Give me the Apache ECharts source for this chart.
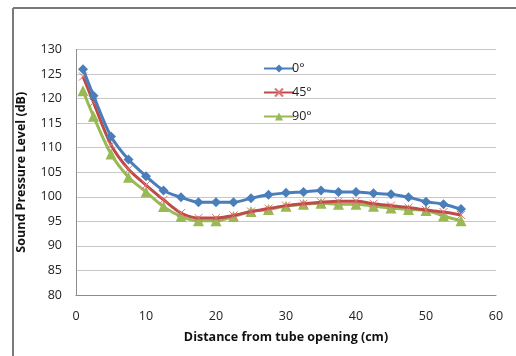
<!DOCTYPE html>
<html>
<head>
<meta charset="utf-8">
<script src="https://cdn.jsdelivr.net/npm/echarts@6/dist/echarts.min.js"></script>
<style>html,body{margin:0;padding:0;background:#fff}#c{width:516px;height:356px}</style>
</head>
<body>
<div id="c"></div>
<script>
const distances = [1,2.5,5,7.5,10,12.5,15,17.5,20,22.5,25,27.5,30,32.5,35,37.5,40,42.5,45,47.5,50,52.5,55];
const spl0 = [126.0,120.6,112.3,107.6,104.2,101.3,99.9,98.9,98.9,98.9,99.7,100.4,100.8,101.0,101.3,101.0,101.0,100.7,100.5,99.9,99.0,98.5,97.5];
const spl45 = [124.5,119.2,110.6,105.6,102.4,99.4,96.7,95.7,95.7,96.2,97.0,97.6,98.2,98.6,98.9,99.1,99.1,98.6,98.2,97.8,97.3,96.9,96.3];
const spl90 = [121.6,116.4,108.7,104.0,101.0,98.0,96.0,95.1,95.1,96.0,97.0,97.4,98.1,98.5,98.7,98.5,98.5,98.1,97.7,97.4,97.2,96.1,95.1];
const seriesNames = ['0°','45°','90°'];
const xTitle = 'Distance from tube opening (cm)';
const yTitle = 'Sound Pressure Level (dB)';

const pair = v => distances.map((d,i)=>[d,v[i]]);
const crossPath = 'path://M0,0 L10,10 M10,0 L0,10';
const font = 'Open Sans, Liberation Sans, sans-serif';

const chart = echarts.init(document.getElementById('c'));
chart.setOption({
  animation:false,
  backgroundColor:'#fff',
  textStyle:{fontFamily:font},
  grid:{left:76,right:20,top:49.5,bottom:61},
  graphic:[
    {type:'line',shape:{x1:13,y1:8,x2:516,y2:8},style:{stroke:'#7a7a7a',lineWidth:2}},
    {type:'line',shape:{x1:13,y1:8,x2:13,y2:356},style:{stroke:'#7a7a7a',lineWidth:2}}
  ],
  legend:{
    orient:'vertical',left:258,top:57,itemWidth:30,itemHeight:10,itemGap:11,
    textStyle:{fontSize:12.5,color:'#222',fontFamily:font,padding:[0,0,0,-7]},
    data:seriesNames
  },
  xAxis:{
    type:'value',min:0,max:60,interval:10,
    name:xTitle,nameLocation:'middle',nameGap:36,
    nameTextStyle:{fontSize:12.5,fontWeight:'bold',color:'#111',fontFamily:font},
    axisLine:{lineStyle:{color:'#8c8c8c'}},
    axisTick:{show:false},
    axisLabel:{fontSize:12.5,color:'#222',margin:15},
    splitLine:{show:false}
  },
  yAxis:{
    type:'value',min:80,max:130,interval:5,
    name:yTitle,nameLocation:'middle',nameGap:48,
    nameTextStyle:{fontSize:12.5,fontWeight:'bold',color:'#111',fontFamily:font},
    axisLine:{show:true,lineStyle:{color:'#8c8c8c'}},
    axisTick:{show:false},
    axisLabel:{fontSize:12.5,color:'#222',margin:14},
    splitLine:{lineStyle:{color:'#c8c8c8',width:1}}
  },
  series:[
    {name:seriesNames[0],type:'line',data:pair(spl0),smooth:0.3,
     symbol:'diamond',symbolSize:10,color:'#4a7ebb',
     lineStyle:{width:3,color:'#4a7ebb'},itemStyle:{color:'#4a7ebb'},z:3},
    {name:seriesNames[1],type:'line',data:pair(spl45),smooth:0.3,
     symbol:crossPath,symbolSize:8,color:'#be4b48',
     lineStyle:{width:3,color:'#be4b48'},
     itemStyle:{color:'#e07070',borderColor:'#e07070',borderWidth:1},z:2},
    {name:seriesNames[2],type:'line',data:pair(spl90),smooth:0.3,
     symbol:'triangle',symbolSize:11,color:'#98b954',
     lineStyle:{width:3,color:'#98b954'},itemStyle:{color:'#98b954'},z:1}
  ]
});
</script>
</body>
</html>
